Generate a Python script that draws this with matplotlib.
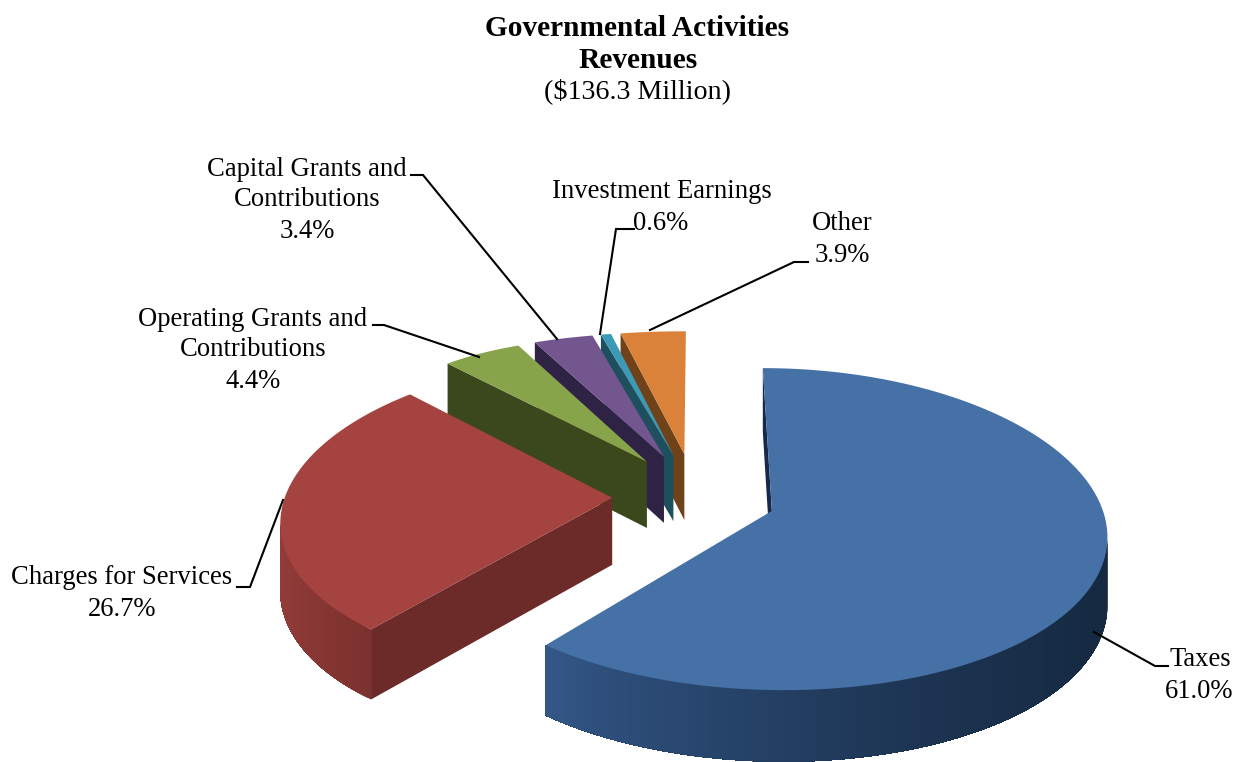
import numpy as np
import matplotlib
matplotlib.use('Agg')
import matplotlib.pyplot as plt
from matplotlib.colors import to_rgb

# slices, clockwise from 12 o'clock
labels = ['Taxes', 'Charges for Services', 'Operating Grants and Contributions',
          'Capital Grants and Contributions', 'Investment Earnings', 'Other']
shares = [61.0, 26.7, 4.4, 3.4, 0.6, 3.9]

top_colors = ['#4671a7', '#a4433f', '#87a44a', '#74568f', '#3d9ab6', '#da813a']
side_left = ['#35598b', '#943d3a', '#3a481c', '#2f2345', '#1e4f5f', '#6f421a']
side_right = ['#152941', '#7c312e', '#3a481c', '#2f2345', '#1e4f5f', '#6f421a']
cut_colors = ['#16294a', '#6c2a28', '#3a481c', '#2f2345', '#1e4f5f', '#6f421a']

# fake 3d camera, pixels
cx, cy = 694, 496
scale_x, scale_y = 327, 155.6
persp_x = 0.13
persp_y = 0.112
far_bend = 0.45
explode = 0.25
explode_v = 1.12
thick = 67


def project(u, v):
    far = far_bend * np.maximum(v - 0.9, 0) ** 2
    return (cx + scale_x * u / (1 + persp_x * v + far),
            cy - scale_y * v / (1 + persp_y * v + far))


def drop(v):
    return thick / np.sqrt(1 + persp_y * v)


def draw_slice(ax, start, end, i):
    mid = (start + end) / 2
    u0 = explode * np.sin(mid)
    v0 = explode * explode_v * np.cos(mid)
    t = np.linspace(start, end, max(int((end - start) * 90), 4))
    u = u0 + np.sin(t)
    v = v0 + np.cos(t)
    x, y = project(u, v)
    h = drop(v)
    ax0, ay0 = project(u0, v0)
    ah = drop(v0)

    # outer wall, front part only, overlapping strips so no seams show
    front = np.where(np.cos(t) < 0.05)[0]
    if len(front) > 1:
        front = front[np.argmax(x[front]):np.argmin(x[front]) + 1]
    if len(front) > 1:
        c0 = np.array(to_rgb(side_left[i]))
        c1 = np.array(to_rgb(side_right[i]))
        xf, yf, hf = x[front], y[front], h[front]
        for k in range(len(xf) - 1):
            f = ((xf[k] - xf.min()) / (xf.max() - xf.min())) ** 0.7
            col = c0 + (c1 - c0) * f
            # from this x all the way to the left, later strips paint over it
            ax.fill(np.r_[xf[k:], xf[k:][::-1]],
                    np.r_[yf[k:], (yf[k:] + hf[k:])[::-1]],
                    facecolor=col, edgecolor='none')

    # flat cut wall on the starting edge
    ax.fill([ax0, x[0], x[0], ax0], [ay0, y[0], y[0] + h[0], ay0 + ah],
            facecolor=cut_colors[i], edgecolor='none')

    ax.fill(np.r_[ax0, x], np.r_[ay0, y], facecolor=top_colors[i], edgecolor='none')


fig = plt.figure(figsize=(12.45, 7.62), dpi=100)
ax = fig.add_axes([0, 0, 1, 1])
ax.set_xlim(0, 1245)
ax.set_ylim(762, 0)
ax.axis('off')

edges = np.r_[0, np.cumsum(shares)] / sum(shares) * 2 * np.pi
for i in [5, 4, 3, 2, 1, 0]:
    draw_slice(ax, edges[i], edges[i + 1], i)

font = dict(family='Liberation Serif', fontsize=19.2, color='black', ha='center', va='center')
title_font = dict(family='Liberation Serif', color='black', ha='center', va='center')

ax.text(637, 28, 'Governmental Activities', fontweight='bold', fontsize=21.2, **title_font)
ax.text(638, 60, 'Revenues', fontweight='bold', fontsize=21.2, **title_font)
ax.text(637, 91, '($136.3 Million)', fontsize=20.2, **title_font)

ax.text(307, 169, 'Capital Grants and', **font)
ax.text(307, 200, 'Contributions', **font)
ax.text(307, 231, '%.1f%%' % shares[3], **font)
ax.text(662, 192, 'Investment Earnings', **font)
ax.text(661, 223, '%.1f%%' % shares[4], **font)
ax.text(842, 223, 'Other', **font)
ax.text(842, 255, '%.1f%%' % shares[5], **font)
ax.text(253, 319, 'Operating Grants and', **font)
ax.text(253, 350, 'Contributions', **font)
ax.text(253, 381, '%.1f%%' % shares[2], **font)
ax.text(122, 578, 'Charges for Services', **font)
ax.text(122, 609, '%.1f%%' % shares[1], **font)
ax.text(1200, 659, 'Taxes', **font)
ax.text(1199, 691, '%.1f%%' % shares[0], **font)

# leader lines
leaders = [
    ([411, 423, 557], [175, 175, 339]),
    ([634, 616, 600], [229, 229, 334]),
    ([808, 794, 650], [262, 262, 330]),
    ([373, 384, 479], [325, 325, 357]),
    ([237, 250, 283], [587, 587, 500]),
    ([1168, 1155, 1094], [666, 666, 632]),
]
for lx, ly in leaders:
    ax.plot(lx, ly, color='black', lw=1.5, solid_joinstyle='miter')

fig.savefig('out.png', dpi=100)
